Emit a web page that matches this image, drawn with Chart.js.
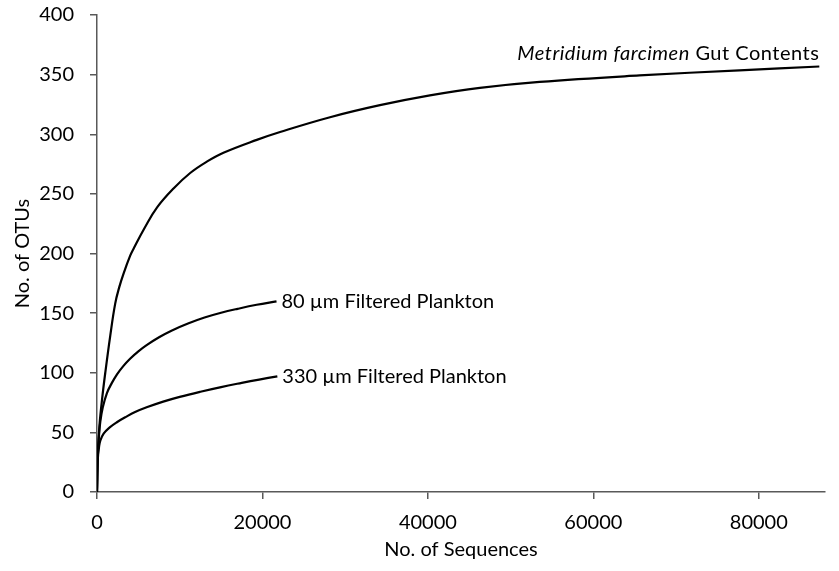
<!DOCTYPE html>
<html>
<head>
<meta charset="utf-8">
<script src="https://cdn.jsdelivr.net/npm/chart.js@4/dist/chart.umd.min.js"></script>
<style>
  html, body { margin: 0; padding: 0; background: #ffffff; }
  #wrap { width: 839px; height: 571px; }
</style>
</head>
<body>
<div id="wrap"><canvas id="c" width="839" height="571"></canvas></div>
<script>
// Rarefaction curves: number of sequences sampled vs. number of OTUs observed
const gutSeqs = [0, 100, 300, 600, 1000, 1600, 2200, 2700, 3200, 4000, 4420, 5800, 7244, 9250, 11264, 13270, 15285, 19317, 22130, 28166, 34204, 40241, 46278, 53507, 65580, 77653, 87313];
const gutOtus = [0, 33, 56, 77, 100, 131, 158, 172, 183, 198, 204, 222, 238.5, 254.5, 267.5, 277, 284.5, 295.3, 301.9, 314.3, 324.4, 332.6, 338.9, 343.9, 349.3, 353.6, 356.8];

const p80Seqs = [0, 100, 250, 400, 700, 1200, 1800, 2400, 3200, 4000, 5000, 6000, 7500, 9000, 11000, 13000, 15000, 17000, 19300, 21700];
const p80Otus = [0, 30, 48, 59, 71, 83, 91.5, 98.5, 105.8, 111.8, 118, 123.2, 129.8, 135.3, 141.3, 146.3, 150.3, 153.6, 157, 159.9];

const p330Seqs = [0, 100, 250, 400, 800, 1500, 2400, 3500, 4600, 6000, 8000, 10000, 12500, 15000, 17500, 19600, 21800];
const p330Otus = [0, 28, 38, 43, 49, 54, 58.5, 63, 67, 71, 75.8, 79.8, 84.1, 88, 91.5, 94.3, 97];

const xTickValues = [0, 20000, 40000, 60000, 80000];
const yTickValues = [0, 50, 100, 150, 200, 250, 300, 350, 400];

const toPoints = (xs, ys) => xs.map((x, i) => ({ x: x, y: ys[i] }));

const FONT = 'Lato, "Open Sans", sans-serif';
Chart.defaults.font.family = FONT;
Chart.defaults.font.size = 20;
Chart.defaults.color = '#000000';

const AXIS = '#595959';

// Writes each curve's name at the end of its line
const endLabels = {
  id: 'endLabels',
  afterDatasetsDraw(chart) {
    const ctx = chart.ctx;
    const xs = chart.scales.x, ys = chart.scales.y;
    ctx.save();
    ctx.fillStyle = '#000000';
    ctx.textBaseline = 'middle';
    ctx.textAlign = 'left';
    chart.data.datasets.forEach(ds => {
      const last = ds.data[ds.data.length - 1];
      const px = xs.getPixelForValue(last.x);
      const py = ys.getPixelForValue(last.y);
      const parts = ds.endLabel;
      ctx.letterSpacing = ds.labelSpacing || '0px';
      const fontFor = p => (p.italic ? 'italic ' : '') + '20px ' + FONT;
      let total = 0;
      parts.forEach(p => { ctx.font = fontFor(p); total += ctx.measureText(p.text).width; });
      let x = ds.labelSide === 'above' ? px - total : px + 5;
      const y = ds.labelSide === 'above' ? py - 13 : py;
      parts.forEach(p => {
        ctx.font = fontFor(p);
        ctx.fillText(p.text, x, y);
        x += ctx.measureText(p.text).width;
      });
    });
    ctx.restore();
  }
};

const lineStyle = {
  borderColor: '#000000',
  borderWidth: 2.2,
  pointRadius: 0,
  pointHoverRadius: 0,
  showLine: true,
  fill: false,
  tension: 0.4
};

new Chart(document.getElementById('c'), {
  type: 'scatter',
  data: {
    datasets: [
      Object.assign({ label: 'Metridium farcimen Gut Contents', data: toPoints(gutSeqs, gutOtus),
        endLabel: [{ text: 'Metridium farcimen', italic: true }, { text: ' Gut Contents' }],
        labelSide: 'above', labelSpacing: '0.5px' }, lineStyle),
      Object.assign({ label: '80 µm Filtered Plankton', data: toPoints(p80Seqs, p80Otus),
        endLabel: [{ text: '80 µm Filtered Plankton' }], labelSide: 'right' }, lineStyle),
      Object.assign({ label: '330 µm Filtered Plankton', data: toPoints(p330Seqs, p330Otus),
        endLabel: [{ text: '330 µm Filtered Plankton' }], labelSide: 'right' }, lineStyle)
    ]
  },
  options: {
    responsive: false,
    animation: false,
    events: [],
    layout: { padding: { left: 0, right: 14, top: 15, bottom: 0 } },
    plugins: {
      legend: { display: false },
      tooltip: { enabled: false }
    },
    scales: {
      x: {
        type: 'linear',
        min: 0,
        max: 88000,
        afterBuildTicks: s => { s.ticks = xTickValues.map(v => ({ value: v })); },
        afterFit: s => { s.height = 79; },
        ticks: { includeBounds: false, padding: 12, maxRotation: 0, callback: v => String(v) },
        grid: { drawOnChartArea: false, drawTicks: true, tickLength: 7, color: AXIS, lineWidth: 1.5 },
        border: { display: true, color: AXIS, width: 1.5 },
        title: { display: true, text: 'No. of Sequences', padding: { top: 0, bottom: 9 } }
      },
      y: {
        type: 'linear',
        min: 0,
        max: 400,
        afterBuildTicks: s => { s.ticks = yTickValues.map(v => ({ value: v })); },
        afterFit: s => { s.width = 97; s.paddingTop = 0; s.paddingBottom = 0; },
        ticks: { padding: 16, callback: v => String(v) },
        grid: { drawOnChartArea: false, drawTicks: true, tickLength: 7, color: AXIS, lineWidth: 1.5 },
        border: { display: true, color: AXIS, width: 1.5 },
        title: { display: true, text: 'No. of OTUs', padding: { top: 11, bottom: 0 } }
      }
    }
  },
  plugins: [endLabels]
});
</script>
</body>
</html>
